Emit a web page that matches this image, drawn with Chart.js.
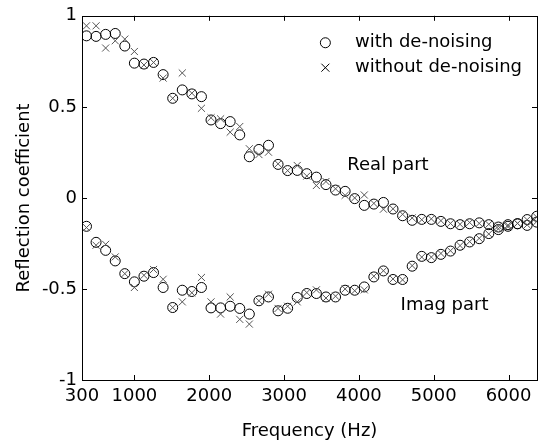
<!DOCTYPE html>
<html lang="en">
<head>
<meta charset="UTF-8">
<title>Reflection coefficient</title>
<script src="https://cdn.jsdelivr.net/npm/chart.js"></script>
<style>
  html, body { margin: 0; padding: 0; background: #fff; }
  #wrap { width: 543px; height: 442px; }
</style>
</head>
<body>
<div id="wrap"><canvas id="rc" width="543" height="442"></canvas></div>
<script>
// frequencies (Hz)
const freqs = [360, 488, 616, 744, 872, 1000, 1128, 1256, 1384, 1512, 1640, 1768,
  1896, 2024, 2152, 2280, 2408, 2536, 2664, 2792, 2920, 3048, 3176, 3304,
  3432, 3560, 3688, 3816, 3944, 4072, 4200, 4328, 4456, 4584, 4712, 4840,
  4968, 5096, 5224, 5352, 5480, 5608, 5736, 5864, 5992, 6120, 6248, 6376];

// real part
const realWith = [0.89, 0.887, 0.898, 0.903, 0.834, 0.74, 0.735, 0.744, 0.677, 0.547, 0.593, 0.571,
  0.556, 0.428, 0.408, 0.419, 0.346, 0.226, 0.266, 0.289, 0.184, 0.15, 0.151, 0.133,
  0.114, 0.073, 0.043, 0.036, -0.004, -0.041, -0.034, -0.025, -0.061, -0.098, -0.123, -0.118,
  -0.118, -0.129, -0.142, -0.147, -0.142, -0.137, -0.147, -0.16, -0.147, -0.142, -0.151, -0.133];
const realWithout = [0.945, 0.945, 0.823, 0.863, 0.872, 0.804, 0.73, 0.744, 0.658, 0.547, 0.686, 0.575,
  0.492, 0.44, 0.434, 0.361, 0.392, 0.27, 0.238, 0.251, 0.187, 0.15, 0.178, 0.12,
  0.068, 0.09, 0.05, 0.014, 0.0, 0.016, -0.03, -0.062, -0.06, -0.09, -0.11, -0.12,
  -0.115, -0.125, -0.14, -0.145, -0.135, -0.14, -0.145, -0.155, -0.15, -0.14, -0.148, -0.13];

// imaginary part
const imagWith = [-0.156, -0.244, -0.288, -0.346, -0.416, -0.461, -0.43, -0.41, -0.492, -0.602, -0.507, -0.514,
  -0.492, -0.604, -0.604, -0.595, -0.607, -0.638, -0.565, -0.544, -0.62, -0.606, -0.547, -0.525,
  -0.525, -0.544, -0.544, -0.507, -0.507, -0.489, -0.434, -0.401, -0.448, -0.448, -0.375, -0.321,
  -0.328, -0.31, -0.292, -0.26, -0.242, -0.224, -0.196, -0.174, -0.156, -0.142, -0.119, -0.101];
const imagWithout = [-0.163, -0.26, -0.255, -0.324, -0.416, -0.492, -0.425, -0.393, -0.447, -0.602, -0.571, -0.521,
  -0.437, -0.571, -0.638, -0.544, -0.667, -0.693, -0.565, -0.529, -0.607, -0.595, -0.571, -0.52,
  -0.505, -0.55, -0.54, -0.5, -0.51, -0.505, -0.43, -0.4, -0.445, -0.45, -0.372, -0.325,
  -0.325, -0.305, -0.29, -0.262, -0.24, -0.222, -0.198, -0.17, -0.158, -0.14, -0.12, -0.105];

const xTicks = [300, 1000, 2000, 3000, 4000, 5000, 6000];
const yTicks = [-1, -0.5, 0, 0.5, 1];

const FONT = 'DejaVu Sans';
const pts = ys => ys.map((y, i) => ({ x: freqs[i], y: y }));

const circleStyle = { pointStyle: 'circle', pointRadius: 5, borderColor: '#000', backgroundColor: 'rgba(0,0,0,0)', borderWidth: 1 };
const crossStyle = { pointStyle: 'crossRot', pointRadius: 5, borderColor: '#555', backgroundColor: '#555', borderWidth: 1 };

// box, inward ticks, legend and labels
const frame = {
  id: 'frame',
  afterDraw(chart) {
    const { ctx, chartArea: a, scales: { x, y } } = chart;
    ctx.save();
    ctx.strokeStyle = '#000';
    ctx.lineWidth = 1;
    ctx.strokeRect(Math.round(a.left) + 0.5, Math.round(a.top) + 0.5,
      Math.round(a.right - a.left), Math.round(a.bottom - a.top));
    ctx.beginPath();
    xTicks.forEach(v => {
      const px = Math.round(x.getPixelForValue(v)) + 0.5;
      if (px < a.left + 2 || px > a.right - 2) return;
      ctx.moveTo(px, a.bottom); ctx.lineTo(px, a.bottom - 5);
      ctx.moveTo(px, a.top); ctx.lineTo(px, a.top + 5);
    });
    yTicks.forEach(v => {
      const py = Math.round(y.getPixelForValue(v)) + 0.5;
      if (py < a.top + 2 || py > a.bottom - 2) return;
      ctx.moveTo(a.left, py); ctx.lineTo(a.left + 5, py);
      ctx.moveTo(a.right, py); ctx.lineTo(a.right - 5, py);
    });
    ctx.stroke();

    // legend
    ctx.fillStyle = '#000';
    ctx.font = '18px "' + FONT + '"';
    ctx.textBaseline = 'middle';
    ctx.textAlign = 'left';
    const lx = x.getPixelForValue(3552), tx = x.getPixelForValue(3948);
    const l1 = y.getPixelForValue(0.852), l2 = y.getPixelForValue(0.715);
    ctx.beginPath();
    ctx.arc(lx, l1, 5, 0, Math.PI * 2);
    ctx.stroke();
    ctx.beginPath();
    ctx.moveTo(lx - 4, l2 - 4); ctx.lineTo(lx + 4, l2 + 4);
    ctx.moveTo(lx + 4, l2 - 4); ctx.lineTo(lx - 4, l2 + 4);
    ctx.stroke();
    ctx.fillText('with de-noising', tx, l1);
    ctx.fillText('without de-noising', tx, l2);

    ctx.fillText('Real part', x.getPixelForValue(3844), y.getPixelForValue(0.178));
    ctx.fillText('Imag part', x.getPixelForValue(4557), y.getPixelForValue(-0.589));
    ctx.restore();
  }
};

new Chart(document.getElementById('rc'), {
  type: 'scatter',
  data: {
    datasets: [
      Object.assign({ label: 'Real, without de-noising', data: pts(realWithout), order: 1 }, crossStyle),
      Object.assign({ label: 'Imag, without de-noising', data: pts(imagWithout), order: 1 }, crossStyle),
      Object.assign({ label: 'Real, with de-noising', data: pts(realWith), order: 2 }, circleStyle),
      Object.assign({ label: 'Imag, with de-noising', data: pts(imagWith), order: 2 }, circleStyle)
    ]
  },
  options: {
    responsive: false,
    animation: false,
    layout: { padding: { left: 0, top: 15, right: 3, bottom: 0 } },
    plugins: { legend: { display: false }, tooltip: { enabled: false } },
    scales: {
      x: {
        type: 'linear',
        min: 300,
        max: 6380,
        grid: { display: false, drawTicks: false },
        border: { display: false },
        afterBuildTicks: s => { s.ticks = xTicks.map(v => ({ value: v })); },
        afterFit: s => { s.height = 62; },
        ticks: {
          color: '#000',
          padding: 6,
          maxRotation: 0,
          autoSkip: false,
          font: { family: FONT, size: 18 },
          callback: v => String(v)
        },
        title: {
          display: true,
          text: 'Frequency (Hz)',
          color: '#000',
          font: { family: FONT, size: 18 },
          padding: { top: 0, bottom: 0 }
        }
      },
      y: {
        min: -1,
        max: 1,
        grid: { display: false, drawTicks: false },
        border: { display: false },
        afterBuildTicks: s => { s.ticks = yTicks.map(v => ({ value: v })); },
        afterFit: s => { s.width = 82; },
        ticks: {
          color: '#000',
          padding: 5,
          font: { family: FONT, size: 18 },
          callback: v => String(v)
        },
        title: {
          display: true,
          text: 'Reflection coefficient',
          color: '#000',
          font: { family: FONT, size: 18 },
          padding: { top: 14, bottom: 0 }
        }
      }
    }
  },
  plugins: [frame]
});
</script>
</body>
</html>
